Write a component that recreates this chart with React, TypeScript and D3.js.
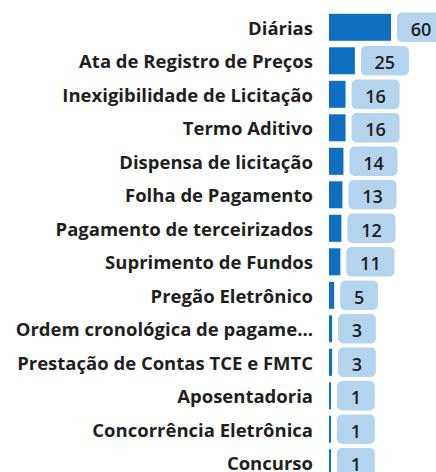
import React from "react";
import * as d3 from "d3";

const categories: string[] = [
  "Diárias",
  "Ata de Registro de Preços",
  "Inexigibilidade de Licitação",
  "Termo Aditivo",
  "Dispensa de licitação",
  "Folha de Pagamento",
  "Pagamento de terceirizados",
  "Suprimento de Fundos",
  "Pregão Eletrônico",
  "Ordem cronológica de pagamentos",
  "Prestação de Contas TCE e FMTC",
  "Aposentadoria",
  "Concorrência Eletrônica",
  "Concurso",
];
const values: number[] = [60, 25, 16, 16, 14, 13, 12, 11, 5, 3, 3, 1, 1, 1];

const W = 436;
const H = 472;
const FONT = "'Open Sans', sans-serif";
const LABEL_SIZE = 18.5;
const LABEL_WEIGHT = 700;
const VALUE_SIZE = 18;
const VALUE_WEIGHT = 600;
const LABEL_RIGHT = 313;
const LABEL_LEFT = 12;
const BAR_X0 = 329;
const STEP = 33.5;
const FIRST_CENTER = 27.3;
const BAR_H = 27;
const BOX_H = 29.5;
const BOX_GAP = 6;
const BOX_PAD = 13.75;

let ctx: CanvasRenderingContext2D | null = null;
function measure(text: string, size: number, weight: number): number {
  if (!ctx) {
    const c = document.createElement("canvas");
    ctx = c.getContext("2d");
  }
  if (!ctx) return text.length * size * 0.58;
  ctx.font = `${weight} ${size}px 'Open Sans'`;
  return ctx.measureText(text).width;
}

function truncate(text: string, maxW: number): string {
  if (measure(text, LABEL_SIZE, LABEL_WEIGHT) <= maxW) return text;
  let t = text;
  while (t.length > 1 && measure(t + "...", LABEL_SIZE, LABEL_WEIGHT) > maxW) t = t.slice(0, -1);
  return t + "...";
}

export default function App() {
  const y = d3
    .scaleBand<string>()
    .domain(categories)
    .range([FIRST_CENTER - STEP / 2, FIRST_CENTER - STEP / 2 + STEP * categories.length])
    .paddingInner(0)
    .paddingOuter(0);
  const x = d3.scaleLinear().domain([0, 60]).range([0, 62]);

  return (
    <svg
      width={W}
      height={H}
      style={{ position: "fixed", left: 0, top: 0, background: "#fff" }}
      fontFamily={FONT}
    >
      {categories.map((c, i) => {
        const v = values[i];
        const cy = (y(c) as number) + y.bandwidth() / 2;
        const bw = Math.max(x(v), 2);
        const label = truncate(c, LABEL_RIGHT - LABEL_LEFT);
        const vt = String(v);
        const boxW = measure(vt, VALUE_SIZE, VALUE_WEIGHT) + BOX_PAD * 2;
        const boxX = BAR_X0 + bw + BOX_GAP;
        return (
          <g key={c}>
            <text
              x={LABEL_RIGHT}
              y={cy}
              textAnchor="end"
              dominantBaseline="central"
              fontSize={LABEL_SIZE}
              fontWeight={LABEL_WEIGHT}
              fill="#1f1f1f"
            >
              {label}
            </text>
            <rect x={BAR_X0} y={cy - BAR_H / 2} width={bw} height={BAR_H} fill="#0f6fc0" />
            <rect
              x={boxX}
              y={cy - BOX_H / 2}
              width={boxW}
              height={BOX_H}
              rx={5}
              ry={5}
              fill="#b4d4ee"
            />
            <text
              x={boxX + boxW / 2}
              y={cy + 1.5}
              textAnchor="middle"
              dominantBaseline="central"
              fontSize={VALUE_SIZE}
              fontWeight={VALUE_WEIGHT}
              fill="#1f1f1f"
            >
              {vt}
            </text>
          </g>
        );
      })}
    </svg>
  );
}
